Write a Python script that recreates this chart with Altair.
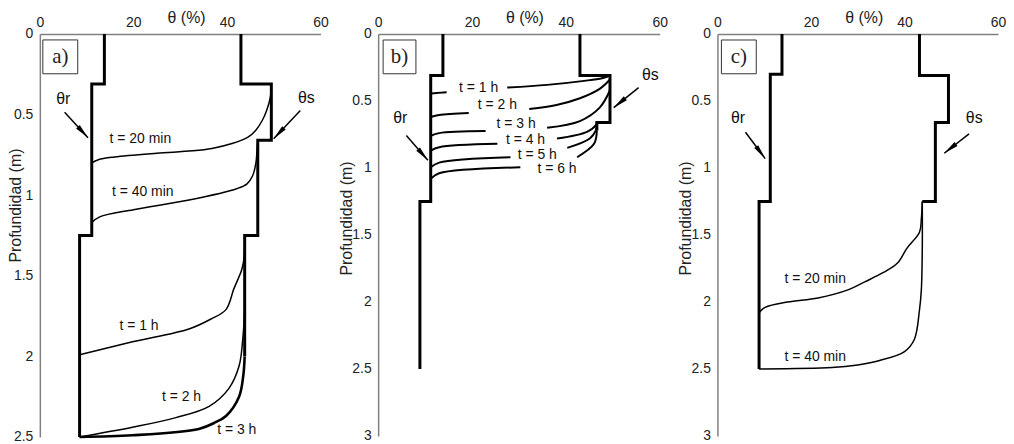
import math
import altair as alt
import pandas as pd

FONT = "Liberation Sans"

# ---------------- Panel a ----------------
a_theta_r = [(13.8, 0), (13.8, 0.31), (11.1, 0.31), (11.1, 1.25), (8.5, 1.25), (8.5, 2.5)]
a_theta_s = [(43, 0), (43, 0.31), (49.5, 0.31), (49.5, 0.66), (46.6, 0.66), (46.6, 1.25),
             (43.8, 1.25), (43.8, 2.0)]
a_t20 = [(11.1, 0.80), (12.5, 0.78), (16, 0.763), (25, 0.74), (32.6, 0.725), (36.8, 0.71),
         (41.1, 0.68), (44.5, 0.64), (46.1, 0.60), (47.5, 0.54), (48.5, 0.475), (49.3, 0.39),
         (49.5, 0.31)]
a_t40 = [(11.1, 1.17), (12.8, 1.135), (20, 1.09), (31.9, 1.03), (42.1, 0.96), (44.3, 0.93),
         (45.5, 0.88), (46.2, 0.80), (46.4, 0.74), (46.6, 0.66)]
a_t1h = [(8.5, 1.99), (19.8, 1.91), (31.9, 1.83), (36.5, 1.77), (39.8, 1.71), (41.5, 1.58),
         (43.2, 1.46), (43.7, 1.38), (43.8, 1.25)]
a_t2h = [(8.5, 2.5), (19.8, 2.44), (29.1, 2.38), (36.2, 2.31), (40.4, 2.20), (42.6, 2.06),
         (43.4, 1.89), (43.8, 1.71)]
a_t3h = [(8.5, 2.5), (19.8, 2.49), (34, 2.45), (37.5, 2.41), (39.8, 2.37), (42.6, 2.25),
         (43.5, 2.12), (43.8, 2.0)]
a_labels = ["t = 20 min", "t = 40 min", "t = 1 h", "t = 2 h", "t = 3 h"]
a_label_pos = [(21.5, 0.65), (22.0, 0.98), (21.2, 1.81), (30.3, 2.25), (42.1, 2.46)]
a_sym_pos = [(5.0, 0.405), (57.0, 0.395)]
a_arrows = [((5.3, 0.486), (10.3, 0.644)), ((55.7, 0.475), (50.0, 0.65))]
a_box = (0.64, 8.1, 0.037, 0.247)

# ---------------- Panel b ----------------
b_theta_r = [(13.8, 0), (13.8, 0.31), (11.2, 0.31), (11.2, 1.25), (8.9, 1.25), (8.9, 2.5)]
b_theta_s = [(43, 0), (43, 0.31), (49.4, 0.31), (49.4, 0.66), (46.6, 0.66), (46.6, 0.72)]
b_t1_left = [(11.2, 0.445), (12.5, 0.44), (14.6, 0.435)]
b_t1_right = [(27.5, 0.40), (36, 0.38), (43.9, 0.35), (47.7, 0.33), (49.4, 0.31)]
b_t2_left = [(11.2, 0.62), (13, 0.605), (19.3, 0.59)]
b_t2_right = [(32.2, 0.56), (38, 0.53), (43, 0.48), (47.2, 0.41), (49.4, 0.34)]
b_t3_left = [(11.2, 0.76), (13, 0.74), (22.9, 0.725)]
b_t3_right = [(36, 0.70), (43, 0.65), (47.2, 0.55), (49.4, 0.42)]
b_t4_left = [(11.2, 0.87), (13, 0.845), (25.4, 0.82)]
b_t4_right = [(38.1, 0.78), (44.5, 0.73), (46.4, 0.68), (46.6, 0.66)]
b_t5_left = [(11.2, 0.995), (13, 0.96), (28.2, 0.92)]
b_t5_right = [(40.3, 0.85), (45.1, 0.78), (46.4, 0.72), (46.6, 0.69)]
b_t6_left = [(11.2, 1.08), (13, 1.04), (30.3, 0.995)]
b_t6_right = [(42.4, 0.92), (46.0, 0.82), (46.6, 0.72)]
b_labels = ["t = 1 h", "t = 2 h", "t = 3 h", "t = 4 h", "t = 5 h", "t = 6 h"]
b_label_pos = [(21.4, 0.40), (25.4, 0.53), (29.4, 0.67), (31.4, 0.79), (33.9, 0.90), (38.1, 1.01)]
b_sym_pos = [(4.7, 0.63), (58.0, 0.31)]
b_arrows = [((6.0, 0.757), (10.6, 0.943)), ((55.5, 0.40), (50.2, 0.55))]
b_box = (1.06, 8.05, 0.045, 0.297)

# ---------------- Panel c ----------------
c_theta_r = [(13.8, 0), (13.8, 0.30), (11.3, 0.30), (11.3, 1.25), (8.9, 1.25), (8.9, 2.5)]
c_theta_s = [(43.2, 0), (43.2, 0.31), (49.4, 0.31), (49.4, 0.66), (46.6, 0.66), (46.6, 1.25),
             (43.8, 1.25)]
c_t20 = [(8.9, 2.08), (10.2, 2.04), (15, 2.0), (21.5, 1.97), (27.9, 1.91), (31.5, 1.85),
         (35.5, 1.78), (38.5, 1.71), (40.5, 1.60), (43.2, 1.48), (43.6, 1.38), (43.8, 1.25)]
c_t40 = [(8.9, 2.5), (24.5, 2.49), (30, 2.47), (34.3, 2.44), (40, 2.37), (42.1, 2.28),
         (43.2, 2.06), (43.6, 1.91), (43.8, 1.6), (43.8, 1.25)]
c_labels = ["t = 20 min", "t = 40 min"]
c_label_pos = [(20.9, 1.83), (20.9, 2.41)]
c_sym_pos = [(4.4, 0.63), (54.9, 0.63)]
c_arrows = [((6.0, 0.733), (10.2, 0.93)), ((53.8, 0.745), (48.5, 0.89))]
c_box = (0.85, 8.3, 0.045, 0.297)

panel_tags = ["a)", "b)", "c)"]
sym_names = ["θr", "θs"]
x_ticks = [0, 20, 40, 60]
THICK, THIN, ARROW_W = 3.0, 1.5, 1.5
HEAD = "M0,0L0.33,2L-0.33,2Z"


def panel(lines, labels, label_pos, sym_pos, arrows, box, tag, ydom, yticks,
          width, height, ytitle_x, ytitle_y):
    kx = width / 60.0
    ky = height / ydom
    rows = []
    for key, pts, w, smooth in lines:
        for i, (t, d) in enumerate(pts):
            rows.append(dict(key=key, i=i, theta=t, depth=d, w=w, s=int(smooth)))
    heads = []
    for j, ((x1, y1), (x2, y2)) in enumerate(arrows):
        rows.append(dict(key=f"arrow{j}", i=0, theta=x1, depth=y1, w=ARROW_W, s=0))
        rows.append(dict(key=f"arrow{j}", i=1, theta=x2, depth=y2, w=ARROW_W, s=0))
        ang = math.degrees(math.atan2((x2 - x1) * kx, -(y2 - y1) * ky)) % 360
        heads.append(dict(theta=x2, depth=y2, ang=ang))
    df = pd.DataFrame(rows)
    hdf = pd.DataFrame(heads)
    tdf = pd.DataFrame([dict(theta=p[0], depth=p[1], txt=s) for s, p in zip(labels, label_pos)])
    sdf = pd.DataFrame([dict(theta=p[0], depth=p[1], txt=s) for s, p in zip(sym_names, sym_pos)])
    bdf = pd.DataFrame([dict(theta=box[0], theta2=box[1], depth=box[2], depth2=box[3],
                             tc=(box[0] + box[1]) / 2, dc=(box[2] + box[3]) / 2, txt=tag)])

    xenc = alt.X("theta:Q", scale=alt.Scale(domain=[0, 60], nice=False, zero=False),
                 axis=alt.Axis(orient="top", values=x_ticks, title="θ (%)", grid=False,
                               ticks=False, labelFlush=False, labelPadding=5,
                               labelFontSize=14, labelColor="#222", labelFont=FONT,
                               titleFontSize=16, titleFontWeight="normal", titleColor="#222",
                               titleFont=FONT, titleX=147, titleY=-25, titleBaseline="top",
                               titleAlign="center", titleAnchor="middle",
                               domainColor="#808080", domainWidth=1.5))
    yenc = alt.Y("depth:Q", scale=alt.Scale(domain=[0, ydom], nice=False, reverse=True, zero=False),
                 axis=alt.Axis(orient="left", values=yticks, format="~g", title="Profundidad (m)",
                               grid=False, ticks=False, labelFlush=False, labelPadding=7,
                               labelFontSize=14, labelColor="#222", labelFont=FONT,
                               labelOverlap=False,
                               titleFontSize=16, titleFontWeight="normal", titleColor="#222",
                               titleFont=FONT, titleX=ytitle_x, titleY=ytitle_y,
                               titleAngle=270, titleBaseline="bottom", titleAlign="center",
                               domainColor="#808080", domainWidth=1.5))

    base = alt.Chart(df)
    step_layer = base.transform_filter("datum.s == 0").mark_line(
        color="black", strokeJoin="miter", strokeCap="butt").encode(
        x=xenc, y=yenc, detail="key:N", order="i:Q",
        strokeWidth=alt.StrokeWidth("w:Q", scale=None))
    curve_layer = base.transform_filter("datum.s == 1").mark_line(
        color="black", interpolate="catmull-rom", strokeCap="butt").encode(
        x="theta:Q", y="depth:Q", detail="key:N", order="i:Q",
        strokeWidth=alt.StrokeWidth("w:Q", scale=None))
    box_layer = alt.Chart(bdf).mark_rect(fill="white", stroke="#333", strokeWidth=1).encode(
        x="theta:Q", x2="theta2:Q", y="depth:Q", y2="depth2:Q")
    tag_layer = alt.Chart(bdf).mark_text(font="Liberation Serif", fontSize=21, color="#222",
                                         align="center", baseline="middle").encode(
        x="tc:Q", y="dc:Q", text="txt:N")
    txt_layer = alt.Chart(tdf).mark_text(font=FONT, fontSize=14, color="#111",
                                         align="center", baseline="middle").encode(
        x="theta:Q", y="depth:Q", text="txt:N")
    sym_layer = alt.Chart(sdf).mark_text(font=FONT, fontSize=16, color="#111",
                                         align="center", baseline="middle").encode(
        x="theta:Q", y="depth:Q", text="txt:N")
    head_layer = alt.Chart(hdf).mark_point(shape=HEAD, size=225, filled=True, color="black",
                                           opacity=1, strokeWidth=0).encode(
        x="theta:Q", y="depth:Q", angle=alt.Angle("ang:Q", scale=None))
    return alt.layer(step_layer, curve_layer, box_layer, tag_layer, txt_layer, sym_layer,
                     head_layer).properties(width=width, height=height)


pa = panel([("thr", a_theta_r, THICK, False), ("ths", a_theta_s, THICK, False),
            ("t20", a_t20, THIN, True), ("t40", a_t40, THIN, True), ("t1", a_t1h, THIN, True),
            ("t2", a_t2h, THIN, True), ("t3", a_t3h, 2.6, True)],
           a_labels, a_label_pos, a_sym_pos, a_arrows, a_box, panel_tags[0],
           2.5, [0, 0.5, 1, 1.5, 2, 2.5], 282, 405, -16, 172)

pb = panel([("thr", b_theta_r, THICK, False), ("ths", b_theta_s, THICK, False),
            ("t1a", b_t1_left, 2.0, True), ("t1b", b_t1_right, 2.0, True),
            ("t2a", b_t2_left, 2.0, True), ("t2b", b_t2_right, 2.0, True),
            ("t3a", b_t3_left, 2.0, True), ("t3b", b_t3_right, 2.0, True),
            ("t4a", b_t4_left, 2.0, True), ("t4b", b_t4_right, 2.0, True),
            ("t5a", b_t5_left, 2.0, True), ("t5b", b_t5_right, 2.0, True),
            ("t6a", b_t6_left, 2.0, True), ("t6b", b_t6_right, 2.0, True)],
           b_labels, b_label_pos, b_sym_pos, b_arrows, b_box, panel_tags[1],
           3, [0, 0.5, 1, 1.5, 2, 2.5, 3], 283, 404, -24, 185)

pc = panel([("thr", c_theta_r, THICK, False), ("ths", c_theta_s, THICK, False),
            ("t20", c_t20, THIN, True), ("t40", c_t40, THIN, True)],
           c_labels, c_label_pos, c_sym_pos, c_arrows, c_box, panel_tags[2],
           3, [0, 0.5, 1, 1.5, 2, 2.5, 3], 282, 404, -24, 185)

chart = alt.hconcat(pa, pb, pc, spacing=58, bounds="flush").properties(
    padding=0, background="white").configure_view(stroke=None)

chart.save("out.html", embed_options={"renderer": "svg", "actions": False})
